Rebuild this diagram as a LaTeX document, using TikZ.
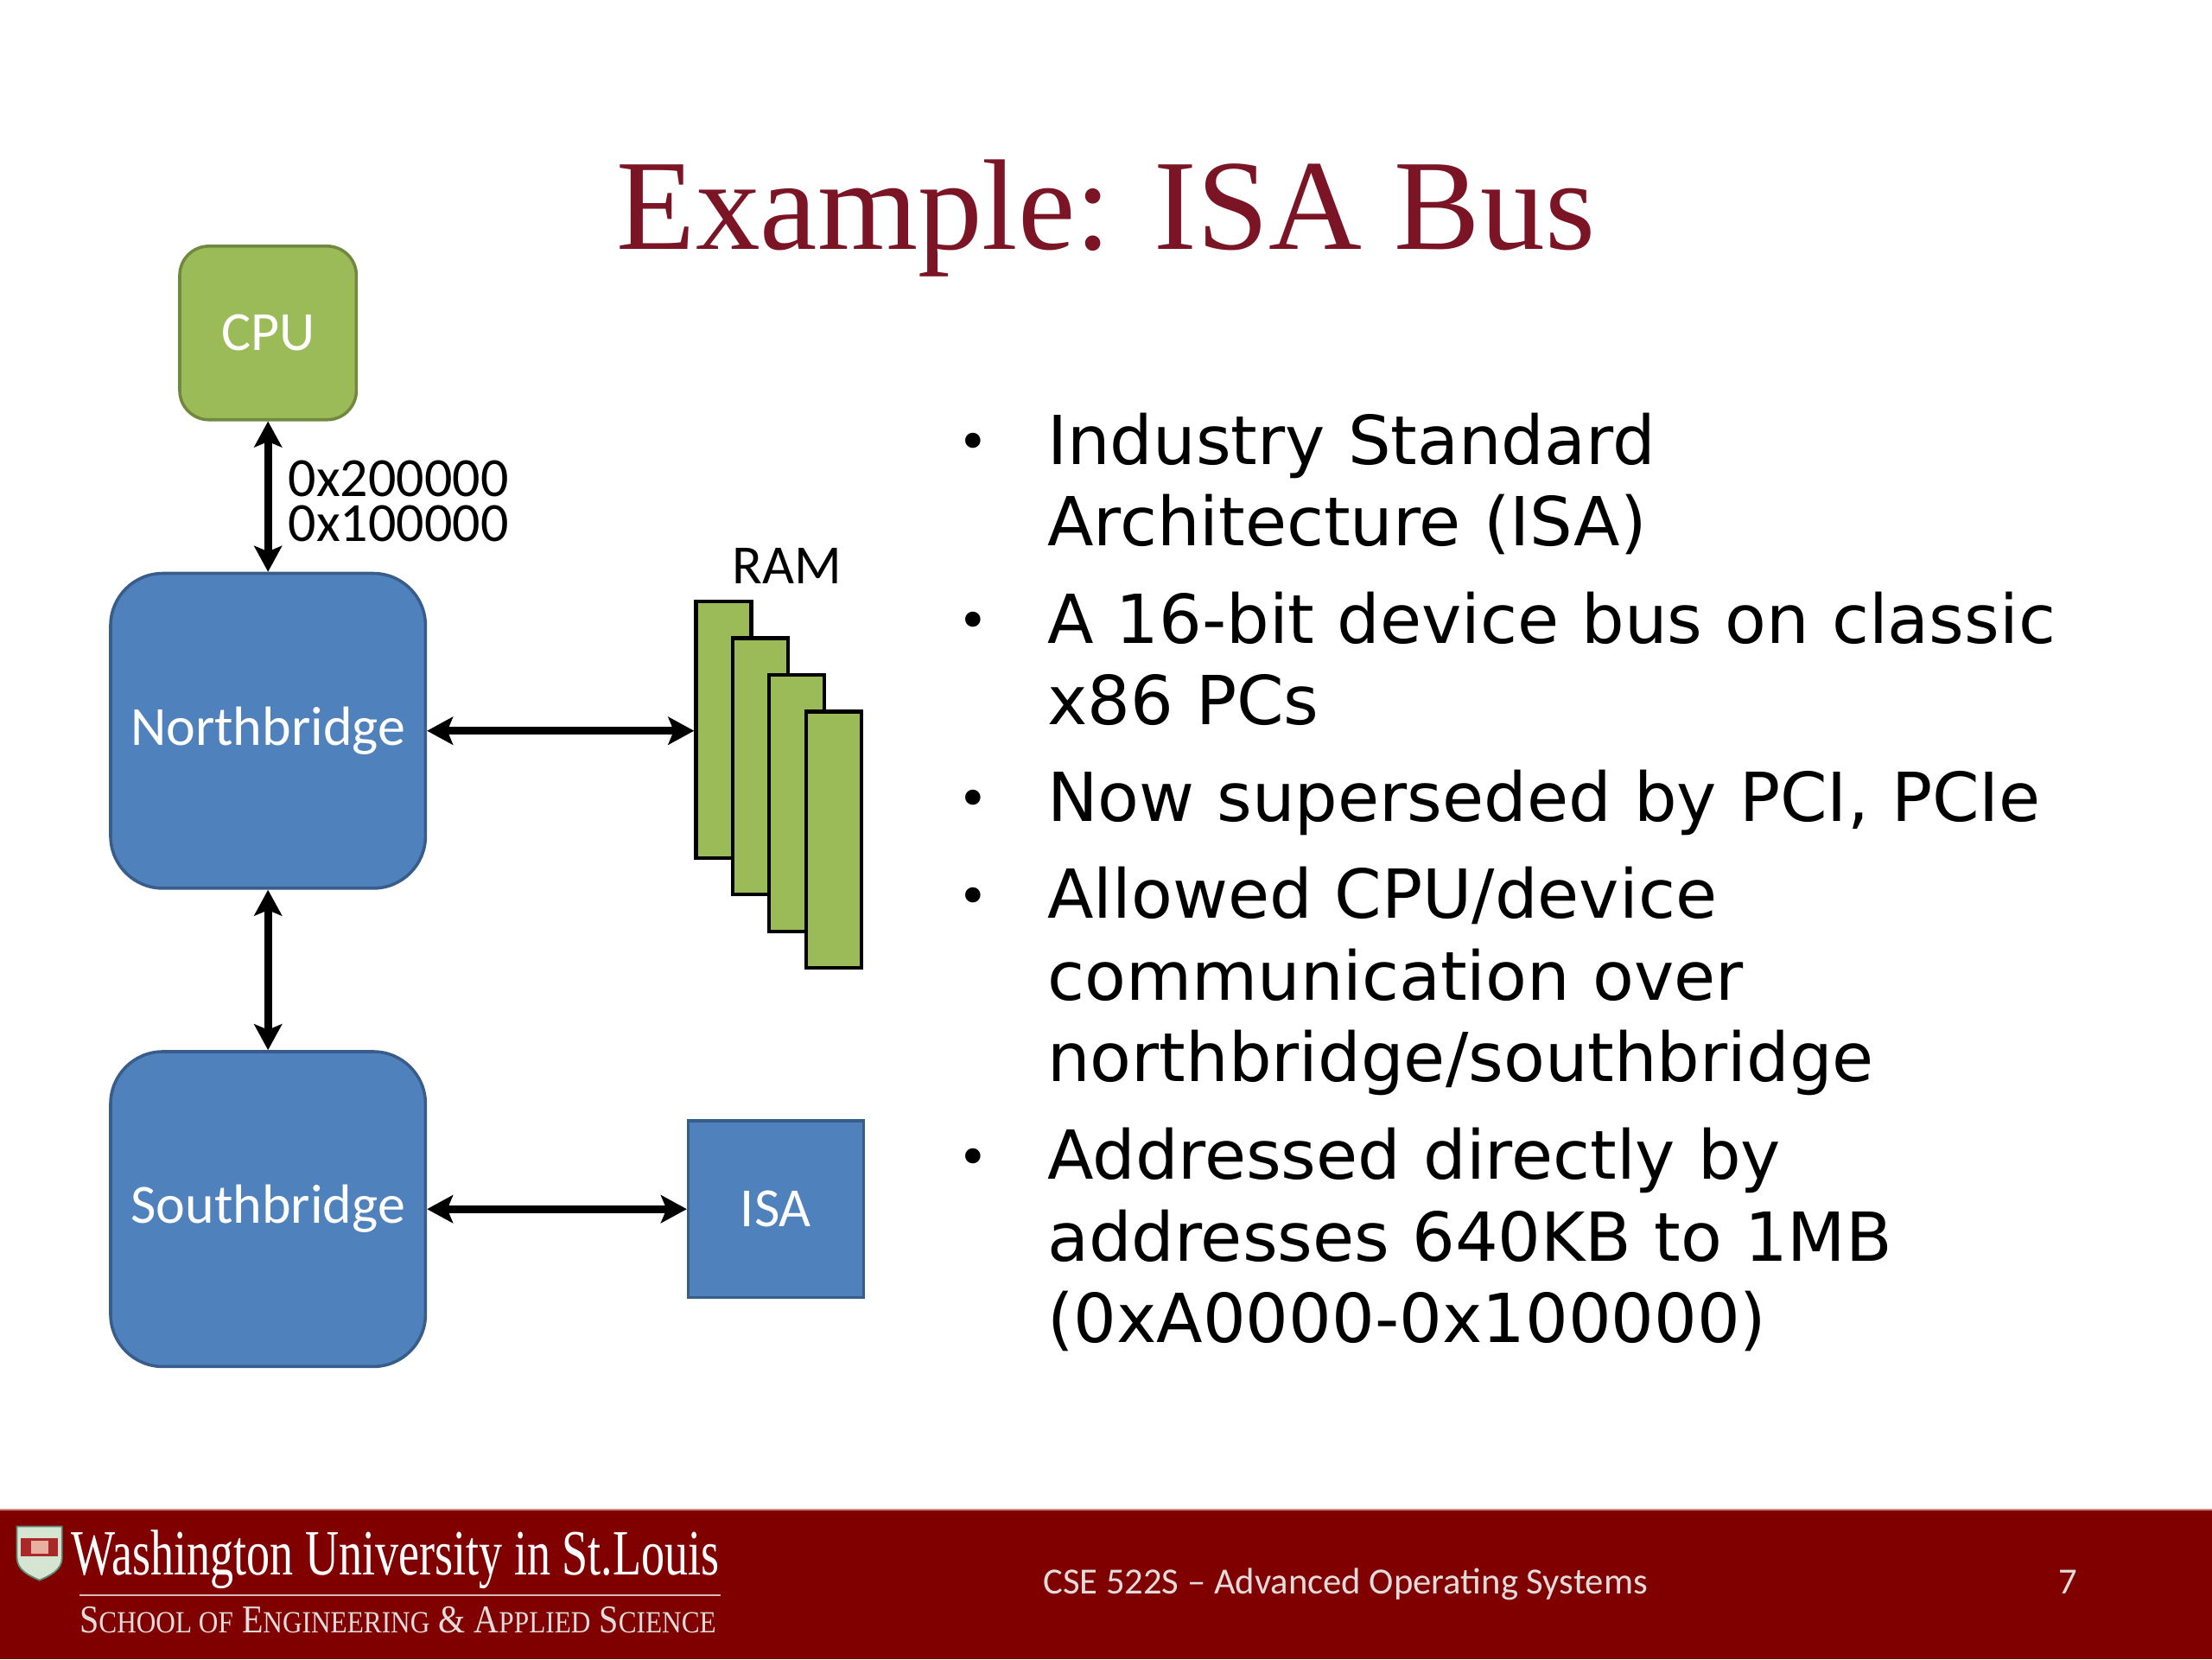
\documentclass[tikz,border=0pt]{standalone}
\usepackage{fontspec}
\setmainfont{Liberation Serif}
\newfontfamily\bodyfont{DejaVu Sans}
\newfontfamily\boxfont{Carlito}
\newfontfamily\logofont[FakeStretch=0.725]{Liberation Serif}
\newfontfamily\seasfont[FakeStretch=0.88]{Liberation Serif}
\usetikzlibrary{arrows.meta}

\definecolor{boxblue}{HTML}{4F81BD}
\definecolor{boxblueline}{HTML}{385D8A}
\definecolor{boxgreen}{HTML}{9BBB59}
\definecolor{boxgreenline}{HTML}{71893F}
\definecolor{titlered}{RGB}{123,20,36}
\definecolor{footred}{RGB}{128,0,0}
\definecolor{foottext}{RGB}{228,220,220}
\definecolor{shieldlight}{RGB}{214,229,210}
\definecolor{shieldteal}{RGB}{90,140,120}
\definecolor{shieldred}{RGB}{170,40,40}
\definecolor{shieldpink}{RGB}{232,176,160}

\newcommand\lowcaps[1]{{\fontsize{10}{12}\selectfont #1}}

\begin{document}
\begin{tikzpicture}[x=0.4592pt,y=-0.4592pt,
  block/.style={draw=boxblueline, fill=boxblue, line width=1pt, text=white,
    font=\boxfont\fontsize{18}{21}\selectfont, inner sep=0pt},
  bridge/.style={block, rounded corners=17pt, minimum width=102.5pt, minimum height=102.5pt},
  cpubox/.style={block, draw=boxgreenline, fill=boxgreen, rounded corners=9.5pt,
    minimum width=57.5pt, minimum height=56.5pt},
  isabox/.style={block, minimum width=57pt, minimum height=57.5pt},
  stick/.style={draw=black, fill=boxgreen, line width=1.2pt, minimum width=18pt,
    minimum height=83.5pt, anchor=north west, inner sep=0pt},
  link/.style={<->, >={Stealth[length=8.4pt,width=9pt,inset=1.8pt]}, line width=2.5pt},
  label/.style={font=\boxfont\fontsize{18}{21}\selectfont, inner sep=0pt},
  point/.style={font=\bodyfont\fontsize{17}{20}\selectfont, anchor=base, yshift=1.3pt, inner sep=0pt},
  item/.style={font=\bodyfont\fontsize{22}{26.5}\selectfont, anchor=base west,
    text width=360pt, align=left, inner sep=0pt}]
  \useasboundingbox (0,0) rectangle (1568,1176);

  % title
  \node[font=\fontsize{42}{50}\selectfont, text=titlered, anchor=base, inner sep=0pt] (title)
    at (784,177) {Example: ISA Bus};

  % the chipset
  \node[cpubox] (cpu) at (190,236) {CPU};
  \node[bridge] (north) at (190,518) {Northbridge};
  \node[bridge] (south) at (190,857) {Southbridge};
  \node[isabox] (isa) at (550,857) {ISA};
  \foreach \i in {1,...,4}
    \node[stick] (ram\i) at ({466+26*\i},{399+26*\i}) {};
  \node[label, anchor=base] (ramlabel) at (558,414) {RAM};
  \node[label, anchor=base west] (addrtop) at (204,352) {0x200000};
  \node[label, anchor=base west] (addrlow) at (204,384) {0x100000};

  \draw[link] (cpu) -- (north);
  \draw[link] (north) -- (south);
  \draw[link] (north.east) -- (north.east -| ram1.west);
  \draw[link] (south) -- (isa);

  % bullets
  \foreach \y [count=\k] in {329,456,582,651,836}
    \node[point] (dot\k) at (690,\y) {•};
  \node[item] (item1) at (742,329) {Industry Standard\\Architecture (ISA)};
  \node[item] (item2) at (742,456) {A 16-bit device bus on classic\\x86 PCs};
  \node[item] (item3) at (742,582) {Now superseded by PCI, PCIe};
  \node[item] (item4) at (742,651) {Allowed CPU/device\\communication over\\northbridge/southbridge};
  \node[item] (item5) at (742,836) {Addressed directly by\\addresses 640KB to 1MB\\(0xA0000-0x100000)};

  % footer
  \fill[footred] (0,1070) rectangle (1568,1176);
  \draw[footred!45, line width=0.6pt] (0,1070) -- (1568,1070);
  \filldraw[fill=shieldlight, draw=shieldteal, line width=0.5pt] (12,1082) -- (44,1082) -- (44,1104)
    .. controls (44,1113) and (35,1117) .. (28,1120) .. controls (21,1117) and (12,1113) .. (12,1104) -- cycle;
  \fill[shieldred] (15,1090) rectangle (41,1103);
  \fill[shieldpink] (22,1092) rectangle (34,1101);
  \node[font=\logofont\fontsize{21}{24}\selectfont, text=white, anchor=base west, inner sep=0pt] (wustl)
    at (50,1116) {Washington University in St.Louis};
  \draw[foottext!85!footred, line width=0.7pt] (56.5,1130.6) -- (510.6,1130.6);
  \node[font=\seasfont\fontsize{12.8}{15}\selectfont, text=foottext, anchor=base west, inner sep=0pt] (seas)
    at (56,1157.6) {S\lowcaps{CHOOL OF} E\lowcaps{NGINEERING} \& A\lowcaps{PPLIED} S\lowcaps{CIENCE}};
  \node[font=\boxfont\fontsize{12}{14}\selectfont, text=foottext, anchor=base west, inner sep=0pt] (course)
    at (739,1130) {CSE 522S – Advanced Operating Systems};
  \node[font=\boxfont\fontsize{12}{14}\selectfont, text=foottext, anchor=base, inner sep=0pt] (page)
    at (1466,1130) {7};
\end{tikzpicture}
\end{document}
